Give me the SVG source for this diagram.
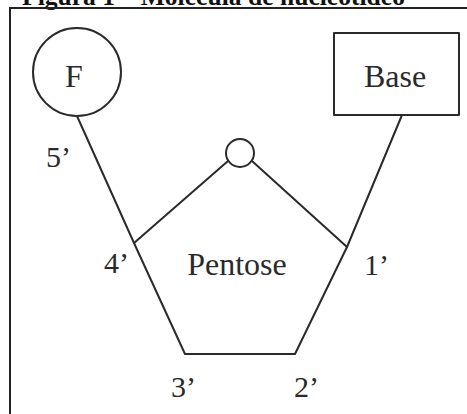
<svg xmlns="http://www.w3.org/2000/svg" width="467" height="414" viewBox="0 0 467 414">
<style>
.ln{stroke:#2a2a2a;stroke-width:2;fill:none;stroke-linecap:round;stroke-linejoin:round}
.lb{font-family:"Liberation Serif","DejaVu Serif",serif;font-size:30px;fill:#2a2a2a}
.big{font-family:"Liberation Serif","DejaVu Serif",serif;font-size:32px;fill:#2a2a2a;text-anchor:middle}
</style>
<rect width="467" height="414" fill="#fff"/>
<text x="22" y="5" font-family="Liberation Serif, serif" font-weight="bold" font-size="25" textLength="383" lengthAdjust="spacingAndGlyphs" fill="#111">Figura 1 – Molécula de nucleotídeo</text>
<path d="M10 414 V8 H467" stroke="#222" stroke-width="2" fill="none"/>
<g id="connectors">
<path class="ln" d="M77 116 L134 243 L185 354 L295 354 L347 247 L402 115"/>
<path class="ln" d="M134 243 L228 161"/>
<path class="ln" d="M252 161 L347 247"/>
</g>
<g id="node-F">
<circle class="ln" cx="77" cy="72" r="44"/>
<text class="big" x="74" y="87">F</text>
</g>
<g id="node-Base">
<rect class="ln" x="334" y="33" width="125" height="82"/>
<text class="big" x="395" y="87">Base</text>
</g>
<g id="node-O">
<circle class="ln" cx="240" cy="153" r="14"/>
</g>
<g id="node-Pentose">
<text class="big" x="237" y="275">Pentose</text>
</g>
<g id="labels">
<text class="lb" x="46" y="167">5’</text>
<text class="lb" x="104" y="273">4’</text>
<text class="lb" x="364" y="275">1’</text>
<text class="lb" x="171" y="397">3’</text>
<text class="lb" x="294" y="397">2’</text>
</g>
</svg>
